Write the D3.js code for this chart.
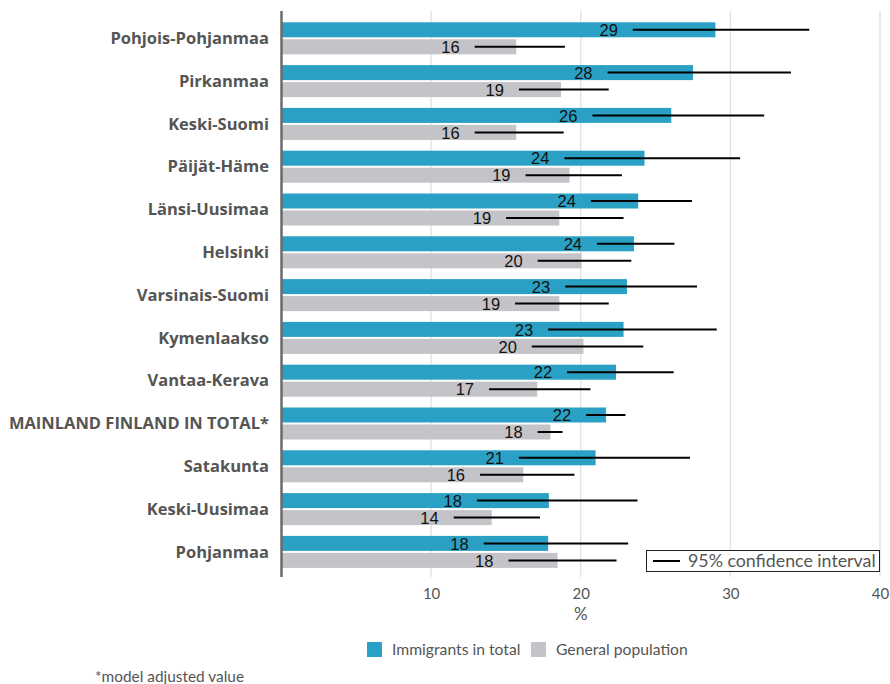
<!DOCTYPE html>
<html><head><meta charset="utf-8">
<script src="https://cdn.jsdelivr.net/npm/d3@7"></script>
<style>
html,body{margin:0;padding:0;background:#fff;}
svg{display:block;}
</style></head>
<body>
<svg id="chart" width="890" height="684"></svg>
<script>
const categories = ["Pohjois-Pohjanmaa","Pirkanmaa","Keski-Suomi","Päijät-Häme","Länsi-Uusimaa","Helsinki","Varsinais-Suomi","Kymenlaakso","Vantaa-Kerava","MAINLAND FINLAND IN TOTAL*","Satakunta","Keski-Uusimaa","Pohjanmaa"];
const immigrants = [29.0,27.5,26.05,24.26,23.84,23.56,23.09,22.86,22.36,21.69,20.99,17.87,17.82];
const immigrantsLow = [23.48,21.79,20.78,18.91,20.68,21.09,18.96,17.82,19.09,20.36,15.87,13.06,13.51];
const immigrantsHigh = [35.27,34.05,32.26,30.65,27.43,26.26,27.77,29.09,26.21,22.99,27.3,23.79,23.17];
const general = [15.69,18.68,15.69,19.25,18.57,20.05,18.57,20.18,17.09,17.97,16.16,14.05,18.45];
const generalLow = [12.91,15.87,12.91,16.31,15.01,17.12,15.61,16.73,13.87,17.12,13.27,11.51,15.17];
const generalHigh = [18.94,21.87,18.86,22.75,22.86,23.38,21.87,24.18,20.65,18.78,19.58,17.27,22.39];
const seriesNames = ["Immigrants in total","General population"];
const tickValues = [10,20,30,40];

const colors = {"Immigrants in total":"#2aa1c4","General population":"#c4c3c8"};
const svg = d3.select("#chart");
const x = d3.scaleLinear().domain([0,40]).range([281.5,880]);
const y = d3.scaleBand().domain(categories).range([16.9,573.3]).paddingInner(0.252).paddingOuter(0.126);
const ys = d3.scaleBand().domain(seriesNames).range([0,y.bandwidth()]).paddingInner(0.1176);

const data = categories.map((c,i)=>({cat:c, vals:[
  {s:seriesNames[0], v:immigrants[i], lo:immigrantsLow[i], hi:immigrantsHigh[i]},
  {s:seriesNames[1], v:general[i], lo:generalLow[i], hi:generalHigh[i]}]}));

// grid
const gTop = 11, gBot = 577;
svg.append("g").selectAll("line").data(tickValues).join("line")
  .attr("x1",d=>x(d)).attr("x2",d=>x(d)).attr("y1",gTop).attr("y2",gBot)
  .attr("stroke","#e0e0e0").attr("stroke-width",1.3);

// tick labels via axis
const axis = svg.append("g").attr("transform",`translate(0,${gBot})`)
  .call(d3.axisBottom(x).tickValues(tickValues).tickSize(0).tickPadding(11).tickFormat(d3.format("d")));
axis.select(".domain").remove();
axis.selectAll("text").attr("font-family","Lato, sans-serif").attr("font-size",15).attr("fill","#555");

svg.append("text").attr("x",x(20)).attr("y",620).attr("text-anchor","middle")
  .attr("font-family","Lato, sans-serif").attr("font-size",17).attr("fill","#555").text("%");

// bars
const groups = svg.append("g").selectAll("g").data(data).join("g")
  .attr("transform",d=>`translate(0,${y(d.cat)})`);
groups.selectAll("rect").data(d=>d.vals).join("rect")
  .attr("x",x(0)).attr("y",d=>ys(d.s)).attr("height",ys.bandwidth())
  .attr("width",d=>x(d.v)-x(0)).attr("fill",d=>colors[d.s]);

// CI lines
groups.selectAll("line.ci").data(d=>d.vals).join("line").attr("class","ci")
  .attr("x1",d=>x(d.lo)).attr("x2",d=>x(d.hi))
  .attr("y1",d=>ys(d.s)+ys.bandwidth()/2).attr("y2",d=>ys(d.s)+ys.bandwidth()/2)
  .attr("stroke","#000").attr("stroke-width",2);

// value labels
groups.selectAll("text.val").data(d=>d.vals).join("text").attr("class","val")
  .attr("x",d=>x(d.lo)-15).attr("y",d=>ys(d.s)+ys.bandwidth()/2)
  .attr("dy","0.37em").attr("text-anchor","end")
  .attr("font-family","'Liberation Sans', Arial, sans-serif").attr("font-size",16.5).attr("fill","#111")
  .text(d=>Math.round(d.v));

// left axis line
svg.append("line").attr("x1",x(0)).attr("x2",x(0)).attr("y1",gTop).attr("y2",gBot)
  .attr("stroke","#6b6b6b").attr("stroke-width",2.5);

// category labels
svg.append("g").selectAll("text").data(categories).join("text")
  .attr("x",269).attr("y",d=>y(d)+y.bandwidth()/2).attr("dy","0.35em")
  .attr("text-anchor","end").attr("font-family","'Open Sans', sans-serif")
  .attr("font-weight","bold").attr("font-size",16.5).attr("fill","#555").text(d=>d);

// CI legend box
const lg = svg.append("g");
lg.append("rect").attr("x",646.5).attr("y",550.5).attr("width",233).attr("height",21)
  .attr("fill","#fff").attr("stroke","#222").attr("stroke-width",1);
lg.append("line").attr("x1",653).attr("x2",680).attr("y1",561).attr("y2",561).attr("stroke","#000").attr("stroke-width",2);
lg.append("text").attr("x",688).attr("y",561).attr("dy","0.35em").attr("font-family","Lato, sans-serif")
  .attr("font-size",17.8).attr("fill","#555").text("95% confidence interval");

// series legend
const leg = svg.append("g");
const legX = [367,531];
seriesNames.forEach((s,i)=>{
  leg.append("rect").attr("x",legX[i]).attr("y",642).attr("width",15).attr("height",15).attr("fill",colors[s]);
  leg.append("text").attr("x",legX[i]+25).attr("y",650).attr("dy","0.35em").attr("font-family","Lato, sans-serif")
    .attr("font-size",15.7).attr("fill","#555").text(s);
});

svg.append("text").attr("x",95).attr("y",677).attr("dy","0.35em").attr("font-family","Lato, sans-serif")
  .attr("font-size",15.4).attr("fill","#555").text("*model adjusted value");
</script>
</body></html>
